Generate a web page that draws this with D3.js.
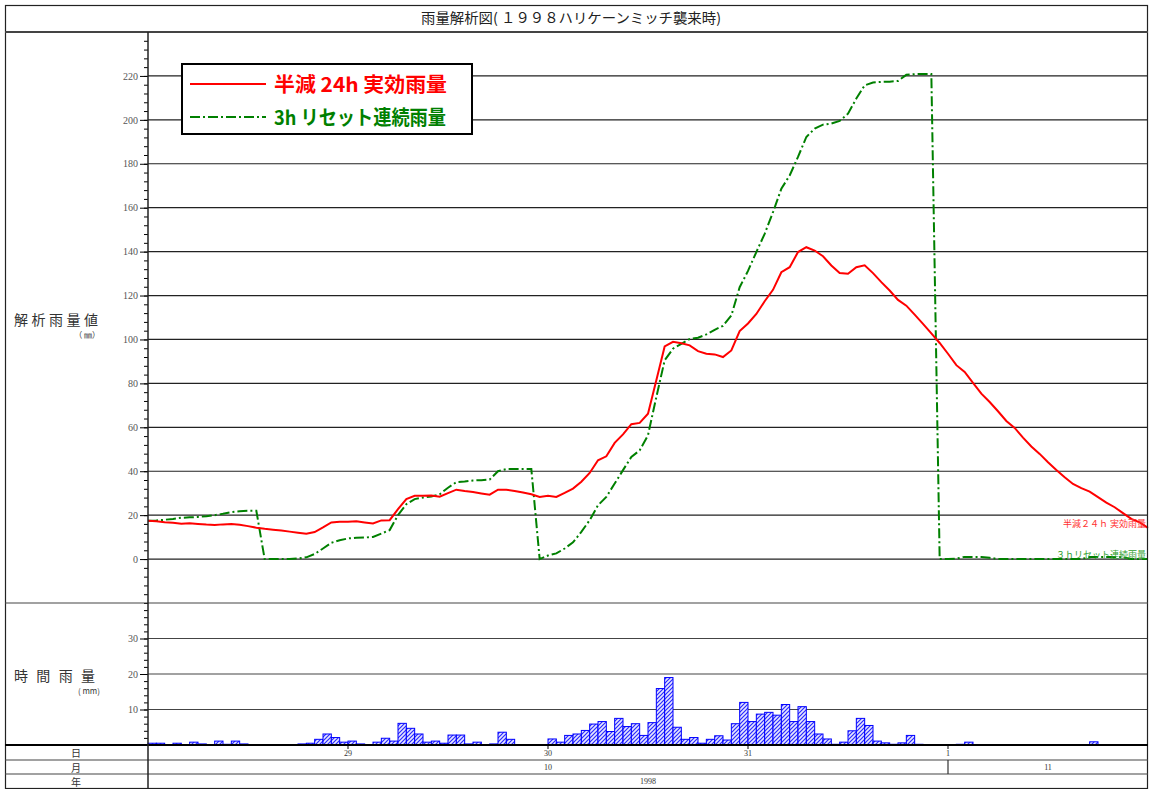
<!DOCTYPE html>
<head>
  <meta charset="utf-8">
  <script src="https://cdn.jsdelivr.net/npm/d3@7"></script>
  <style>
    body { margin: 0; background: #fff; }
    text { font-family: "Noto Sans CJK JP", sans-serif; }
    .tick text { font-family: "Liberation Serif", serif; font-size: 10px; fill: #555; }
  </style>
</head>
<body>
<svg width="1149" height="789"></svg>

<script type="text/javascript">

// hourly values from 1998-10-28 00:00 (hour 0) to 1998-11-02 00:00 (hour 120)
var effective24h = [
  17.4, 17.2, 16.8, 16.5, 16.1, 16.3, 16.0, 15.7, 15.5, 15.8,
  16.0, 15.6, 15.0, 14.3, 13.8, 13.4, 13.0, 12.5, 12.0, 11.5,
  12.3, 14.4, 16.7, 17.0, 17.0, 17.2, 16.7, 16.2, 17.6, 17.7,
  22.7, 27.3, 28.8, 28.8, 29.0, 28.4, 30.0, 31.6, 31.0, 30.5,
  29.9, 29.3, 31.6, 31.6, 31.0, 30.3, 29.5, 28.3, 28.8, 28.3,
  30.1, 32.1, 35.2, 39.2, 45.0, 46.8, 52.9, 56.8, 61.4, 62.0,
  66.2, 81.4, 96.8, 98.9, 98.3, 97.3, 94.7, 93.5, 93.2, 92.0,
  95.0, 103.8, 107.3, 111.6, 117.4, 122.6, 130.6, 132.9, 139.8, 142.0,
  140.5, 137.9, 133.7, 130.3, 129.9, 132.9, 133.8, 130.2, 126.1, 122.3,
  118.0, 115.4, 111.3, 107.1, 102.8, 98.4, 93.5, 88.3, 85.2, 80.2,
  75.3, 71.5, 67.3, 62.9, 59.7, 55.3, 51.3, 47.9, 44.1, 40.6,
  37.3, 34.2, 32.3, 30.7, 28.2, 25.7, 23.6, 20.9, 18.3, 16.7,
  14.2
];

var reset3h = [
  17.4, 17.6, 17.9, 18.3, 18.8, 19.0, 19.2, 19.5, 20.0, 20.6,
  21.4, 21.8, 22.0, 22.0, 0, 0, 0, 0, 0.3, 0.8,
  2.3, 4.8, 7.4, 8.6, 9.4, 9.7, 9.8, 10.1, 11.6, 13.2,
  20.0, 25.0, 27.3, 28.0, 28.5, 29.5, 32.5, 35.0, 35.3, 35.8,
  35.9, 36.2, 40.0, 41.0, 41.0, 41.0, 41.0, 0, 1.6, 2.6,
  4.8, 7.6, 12.4, 17.7, 24.5, 28.3, 34.4, 40.5, 46.5, 49.5,
  56.4, 73.8, 90.5, 95.8, 98.0, 100.2, 100.8, 102.3, 104.4, 106.2,
  110.9, 123.8, 131.2, 139.8, 148.1, 158.0, 168.6, 174.7, 183.1, 192.2,
  196.0, 197.8, 198.3, 199.5, 202.8, 209.7, 215.7, 217.0, 217.3, 217.4,
  217.7, 220.5, 220.8, 220.9, 220.9, 0, 0, 0.2, 1.0, 1.0,
  1.0, 0.6, 0, 0, 0, 0, 0, 0, 0, 0,
  0, 0, 0, 0.9, 0.9, 1.0, 1.0, 0.8, 0, 0,
  0
];

var hourlyRain = [
  0.5, 0.5, 0, 0.5, 0, 0.8, 0.3, 0, 1.1, 0.2,
  1.1, 0.3, 0, 0, 0, 0, 0, 0, 0.3, 0.5,
  1.6, 3.1, 2.1, 0.8, 1.1, 0.3, 0, 0.8, 1.9, 1.1,
  6.1, 4.7, 3.1, 0.8, 1.1, 0.5, 2.8, 2.8, 0.3, 0.8,
  0, 0.3, 3.6, 1.6, 0, 0, 0, 0, 1.7, 0.8,
  2.7, 3.1, 4.1, 5.9, 6.6, 3.8, 7.5, 5.2, 6.0, 2.7,
  6.3, 15.9, 19.0, 5.0, 1.6, 2.1, 0.5, 1.6, 2.6, 1.4,
  6.0, 12.0, 6.6, 8.7, 9.2, 8.4, 11.4, 6.6, 10.8, 6.6,
  3.1, 1.7, 0.2, 0.8, 4.0, 7.5, 5.5, 1.1, 0.6, 0.2,
  0.6, 2.7, 0.2, 0, 0, 0, 0, 0.2, 0.8, 0,
  0, 0, 0, 0, 0, 0, 0, 0, 0, 0,
  0, 0, 0, 0.9, 0, 0.1, 0, 0, 0, 0
];

var upperTicks = [0, 20, 40, 60, 80, 100, 120, 140, 160, 180, 200, 220];
var lowerTicks = [10, 20, 30];
var dayHours = [24, 48, 72, 96];
var dayLabels = ["29", "30", "31", "1"];
var monthLabels = ["10", "11"];
var monthSpans = [[0, 96], [96, 120]];
var yearLabels = ["1998"];

var svg = d3.select("svg");

var x = d3.scaleLinear().domain([0, 120]).range([148, 1148]);
var yUp = d3.scaleLinear().domain([-20, 240]).range([603, 32]);
var yLo = d3.scaleLinear().domain([0, 40]).range([745, 603]);

// hatch for the rain bars
var pat = svg.append("defs").append("pattern")
    .attr("id", "hatch")
    .attr("patternUnits", "userSpaceOnUse")
    .attr("width", 4).attr("height", 4);
pat.append("rect").attr("width", 4).attr("height", 4).attr("fill", "#e6e6ff");
pat.append("path")
    .attr("d", "M-1,1 l2,-2 M0,4 l4,-4 M3,5 l2,-2")
    .attr("stroke", "#2a2aff").attr("stroke-width", 1.2);

// grid lines
svg.selectAll(".gridUp")
    .data(upperTicks)
  .enter().append("line")
    .attr("x1", 148).attr("x2", 1148)
    .attr("y1", function(d) { return yUp(d); })
    .attr("y2", function(d) { return yUp(d); })
    .attr("stroke", "#222").attr("stroke-width", 1.2);

svg.selectAll(".gridLo")
    .data(lowerTicks)
  .enter().append("line")
    .attr("x1", 148).attr("x2", 1148)
    .attr("y1", function(d) { return yLo(d); })
    .attr("y2", function(d) { return yLo(d); })
    .attr("stroke", "#444").attr("stroke-width", 1.2);

// axes
svg.append("g")
    .attr("transform", "translate(148,0)")
    .call(d3.axisLeft(yUp).tickValues(d3.range(-20, 241, 4)).tickSize(4).tickFormat(""))
    .call(function(g) { g.select(".domain").remove(); });
svg.append("g")
    .attr("transform", "translate(148,0)")
    .call(d3.axisLeft(yUp).tickValues(upperTicks).tickSize(8).tickPadding(2))
    .call(function(g) { g.select(".domain").remove(); });

svg.append("g")
    .attr("transform", "translate(148,0)")
    .call(d3.axisLeft(yLo).tickValues(d3.range(2, 40, 2)).tickSize(4).tickFormat(""))
    .call(function(g) { g.select(".domain").remove(); });
svg.append("g")
    .attr("transform", "translate(148,0)")
    .call(d3.axisLeft(yLo).tickValues(lowerTicks).tickSize(8).tickPadding(2))
    .call(function(g) { g.select(".domain").remove(); });

// rain bars (keep the hour index with each value)
var bars = hourlyRain
    .map(function(v, h) { return { h: h, v: v }; })
    .filter(function(d) { return d.v > 0; });

svg.selectAll(".bar")
    .data(bars)
  .enter().append("rect")
    .attr("x", function(d) { return x(d.h); })
    .attr("width", x(1) - x(0))
    .attr("y", function(d) { return yLo(d.v); })
    .attr("height", function(d) { return yLo(0) - yLo(d.v); })
    .attr("fill", "url(#hatch)")
    .attr("stroke", "#0000ff").attr("stroke-width", 1);

// lines
var lineUp = d3.line()
    .x(function(d, i) { return x(i); })
    .y(function(d) { return yUp(d); });

svg.append("path")
    .datum(reset3h)
    .attr("d", lineUp)
    .attr("fill", "none")
    .attr("stroke", "#008000").attr("stroke-width", 2)
    .attr("stroke-dasharray", "10,3,2,3");

svg.append("path")
    .datum(effective24h)
    .attr("d", lineUp)
    .attr("fill", "none")
    .attr("stroke", "#ff0000").attr("stroke-width", 2);

// series names at the right end
svg.append("text").attr("x", 1146).attr("y", 527)
    .attr("text-anchor", "end").attr("font-size", 9).attr("fill", "#ff3030")
    .text("半減２４ｈ 実効雨量");
svg.append("text").attr("x", 1146).attr("y", 558)
    .attr("text-anchor", "end").attr("font-size", 9).attr("fill", "#30a030")
    .text("３ｈリセット連続雨量");

// legend
var legend = svg.append("g");
legend.append("rect")
    .attr("x", 182).attr("y", 64).attr("width", 290).attr("height", 70)
    .attr("fill", "#fff").attr("stroke", "#000").attr("stroke-width", 2);
legend.append("line")
    .attr("x1", 190).attr("x2", 266).attr("y1", 84).attr("y2", 84)
    .attr("stroke", "#ff0000").attr("stroke-width", 2);
legend.append("line")
    .attr("x1", 190).attr("x2", 266).attr("y1", 117).attr("y2", 117)
    .attr("stroke", "#008000").attr("stroke-width", 2)
    .attr("stroke-dasharray", "10,3,2,3");
legend.append("text")
    .attr("x", 274).attr("y", 92)
    .attr("font-size", 20).attr("font-weight", "bold").attr("fill", "#ff0000")
    .attr("textLength", 173).attr("lengthAdjust", "spacingAndGlyphs")
    .text("半減 24h 実効雨量");
legend.append("text")
    .attr("x", 274).attr("y", 125)
    .attr("font-size", 20).attr("font-weight", "bold").attr("fill", "#008000")
    .attr("textLength", 172).attr("lengthAdjust", "spacingAndGlyphs")
    .text("3h リセット連続雨量");

// frame and table lines
svg.append("rect")
    .attr("x", 5.5).attr("y", 5.5).attr("width", 1142).attr("height", 783)
    .attr("fill", "none").attr("stroke", "#222").attr("stroke-width", 1.2);
[32, 603, 745, 760, 774].forEach(function(yy) {
  svg.append("line")
      .attr("x1", 5).attr("x2", 1148).attr("y1", yy).attr("y2", yy)
      .attr("stroke", yy == 745 ? "#000" : "#444")
      .attr("stroke-width", yy == 745 || yy == 32 ? 1.8 : 1.2);
});
svg.append("line")
    .attr("x1", 148).attr("x2", 148).attr("y1", 32).attr("y2", 789)
    .attr("stroke", "#222").attr("stroke-width", 1.5);

// title
svg.append("text")
    .attr("x", 571).attr("y", 23).attr("text-anchor", "middle")
    .attr("font-size", 14).attr("fill", "#222")
    .attr("textLength", 300).attr("lengthAdjust", "spacingAndGlyphs")
    .text("雨量解析図( １９９８ハリケーンミッチ襲来時)");

// left captions
svg.append("text").attr("x", 14).attr("y", 325)
    .attr("font-size", 14).attr("fill", "#333")
    .attr("textLength", 84).attr("lengthAdjust", "spacing")
    .text("解析雨量値");
svg.append("text").attr("x", 100).attr("y", 338).attr("text-anchor", "end")
    .attr("font-size", 8).attr("fill", "#333")
    .text("（ ㎜）");
svg.append("text").attr("x", 14).attr("y", 681)
    .attr("font-size", 14).attr("fill", "#333")
    .attr("textLength", 81).attr("lengthAdjust", "spacing")
    .text("時間雨量");
svg.append("text").attr("x", 100).attr("y", 694).attr("text-anchor", "end")
    .attr("font-size", 8).attr("fill", "#333")
    .text("( mm)");

["日", "月", "年"].forEach(function(t, i) {
  svg.append("text").attr("x", 76).attr("y", 757 + i * 14.5)
      .attr("text-anchor", "middle").attr("font-size", 10).attr("fill", "#333")
      .text(t);
});

// day row
svg.selectAll(".dayTick")
    .data(dayHours)
  .enter().append("line")
    .attr("x1", function(d) { return x(d); })
    .attr("x2", function(d) { return x(d); })
    .attr("y1", 745).attr("y2", 749)
    .attr("stroke", "#000");
svg.selectAll(".dayLabel")
    .data(dayHours)
  .enter().append("text")
    .attr("x", function(d) { return x(d); })
    .attr("y", 756)
    .attr("text-anchor", "middle")
    .style("font", "8px 'Liberation Serif', serif").attr("fill", "#333")
    .text(function(d, i) { return dayLabels[i]; });

// month row
svg.append("line")
    .attr("x1", x(96)).attr("x2", x(96)).attr("y1", 760).attr("y2", 774)
    .attr("stroke", "#333").attr("stroke-width", 1.2);
svg.selectAll(".monthLabel")
    .data(monthSpans)
  .enter().append("text")
    .attr("x", function(d) { return (x(d[0]) + x(d[1])) / 2; })
    .attr("y", 770)
    .attr("text-anchor", "middle")
    .style("font", "8px 'Liberation Serif', serif").attr("fill", "#333")
    .text(function(d, i) { return monthLabels[i]; });

// year row
svg.append("text")
    .attr("x", (x(0) + x(120)) / 2).attr("y", 784)
    .attr("text-anchor", "middle")
    .style("font", "8px 'Liberation Serif', serif").attr("fill", "#333")
    .text(yearLabels[0]);
</script>

</body>
</html>
